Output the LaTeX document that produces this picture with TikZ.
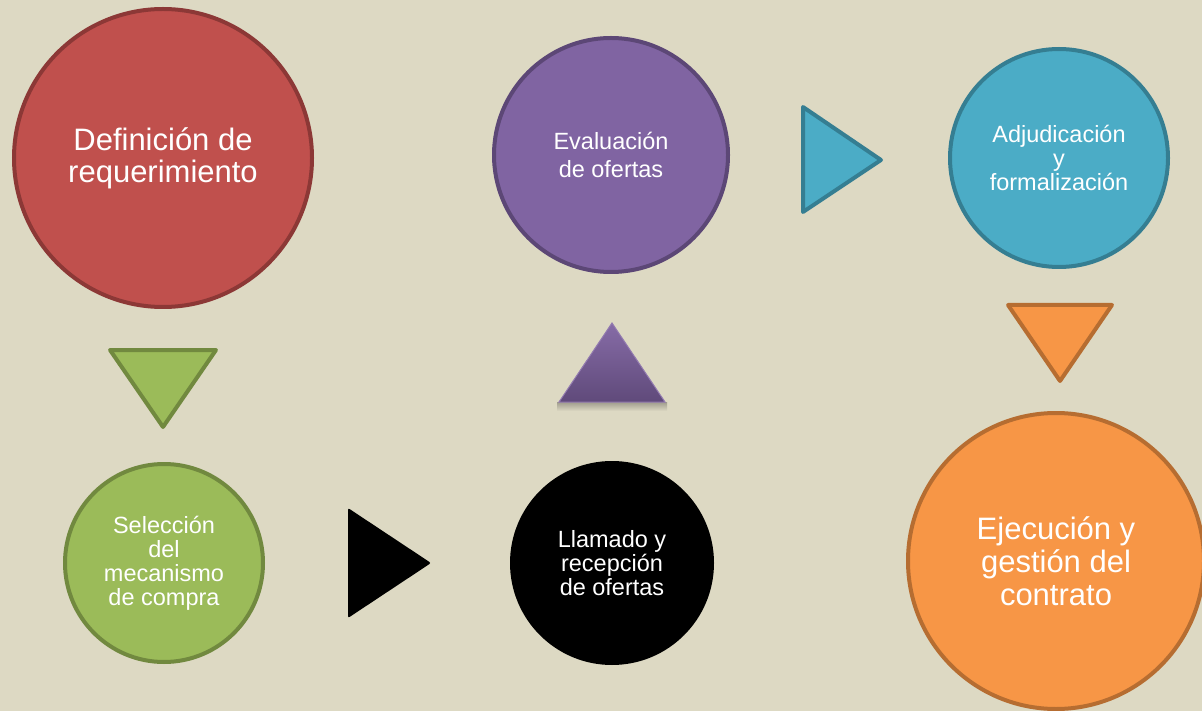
\documentclass[tikz,border=0pt]{standalone}
\usepackage{fontspec}
\setmainfont{Liberation Sans}
\usetikzlibrary{positioning}
\definecolor{fondo}{HTML}{DDD9C3}
\definecolor{rojo}{HTML}{C0504D}
\definecolor{rojoborde}{HTML}{8C3836}
\definecolor{verde}{HTML}{9BBB59}
\definecolor{verdeborde}{HTML}{71893F}
\definecolor{morado}{HTML}{8064A2}
\definecolor{moradoborde}{HTML}{5C4776}
\definecolor{celeste}{HTML}{4BACC6}
\definecolor{celesteborde}{HTML}{357E92}
\definecolor{naranja}{HTML}{F79646}
\definecolor{naranjaborde}{HTML}{B66D31}
\tikzset{
        etapa/.style={circle, draw, line width=4pt, inner sep=0pt, text=white, align=center}, % each stage circle
        grande/.style={font=\fontsize{31}{32}\selectfont},
        chica/.style={font=\fontsize{23.5}{24}\selectfont},
        flecha/.style={line width=4pt, line join=round}, % triangle pointers
}

\begin{document}
\begin{tikzpicture}[x=1pt,y=-1pt]
\useasboundingbox (0,0) rectangle (1202,711);
\clip (0,0) rectangle (1202,711);
\fill[fondo] (0,0) rectangle (1202,711);

% stages
\node[etapa, grande, fill=rojo, draw=rojoborde, minimum size=298pt] (definicion) at (163,158) {Definición de\\requerimiento};
\node[etapa, chica, fill=verde, draw=verdeborde, minimum size=198pt] (seleccion) at (164,563) {Selección\\del\\mecanismo\\de compra};
\node[etapa, chica, fill=black, draw=black, minimum size=200pt] (llamado) at (612,563) {Llamado y\\recepción\\de ofertas};
\node[etapa, chica, font=\fontsize{23.5}{28}\selectfont, fill=morado, draw=moradoborde, minimum size=234pt] (evaluacion) at (611,155) {Evaluación\\de ofertas};
\node[etapa, chica, fill=celeste, draw=celesteborde, minimum size=218pt] (adjudicacion) at (1059,158) {Adjudicación\\y\\formalización};
\node[etapa, grande, font=\fontsize{31}{33}\selectfont, fill=naranja, draw=naranjaborde, minimum size=296pt] (ejecucion) at (1056,561) {Ejecución y\\gestión del\\contrato};

% pointers between stages
\filldraw[flecha, fill=verde, draw=verdeborde] (110,350) -- (216,350) -- (163,427) -- cycle;
\fill[black, rounded corners=2pt] (348,508) -- (431,563) -- (348,618) -- cycle;
\fill[top color=black!28!fondo, bottom color=fondo] (557,402) rectangle (667,411);
\shade[top color=morado!95!white, bottom color=moradoborde!90!morado, draw=morado!85!white, line width=1pt] (612,323) -- (665,402) -- (559,402) -- cycle;
\filldraw[flecha, fill=celeste, draw=celesteborde] (803,107) -- (881,160) -- (803,212) -- cycle;
\filldraw[flecha, fill=naranja, draw=naranjaborde] (1008,305) -- (1112,305) -- (1060,381) -- cycle;
\end{tikzpicture}
\end{document}
